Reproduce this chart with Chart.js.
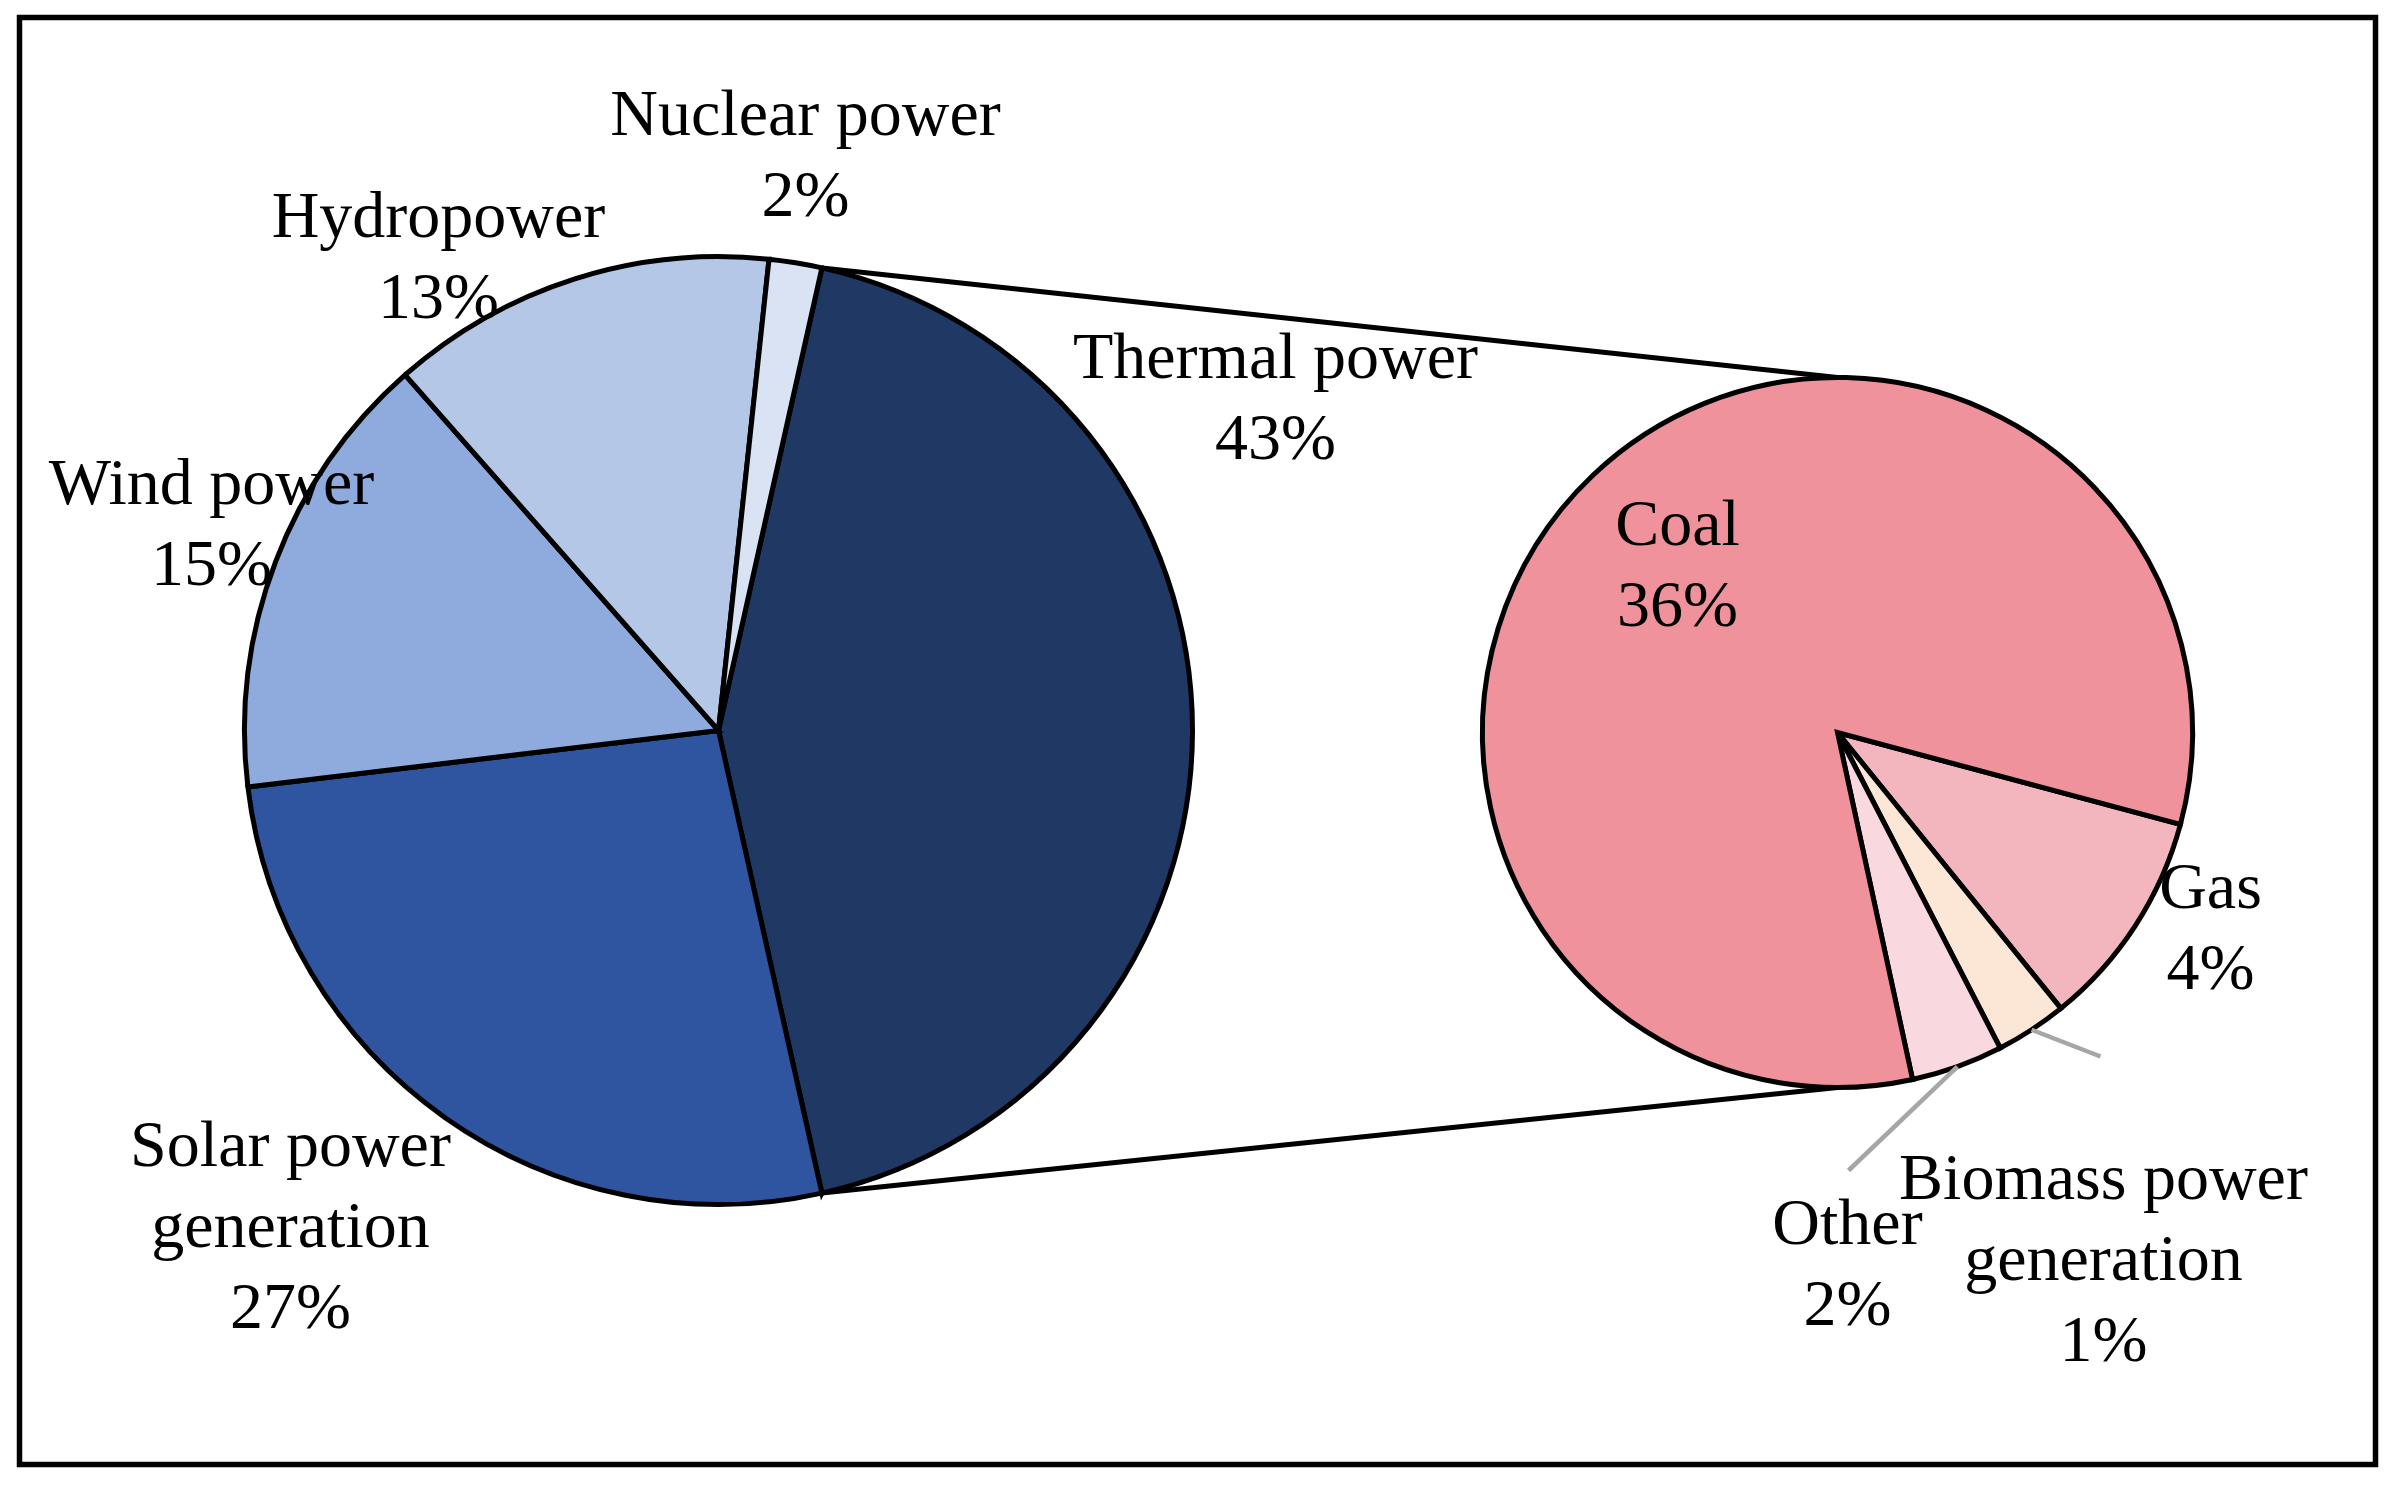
<!DOCTYPE html>
<html>
<head>
<meta charset="utf-8">
<script src="https://cdn.jsdelivr.net/npm/chart.js@4.4.1/dist/chart.umd.min.js"></script>
<style>
  html, body { margin: 0; padding: 0; background: #ffffff; }
  #wrap { position: relative; width: 2400px; height: 1487px; }
  canvas { position: absolute; left: 0; top: 0; }
</style>
</head>
<body>
<div id="wrap">
  <canvas id="mainPie" width="2400" height="1487"></canvas>
  <canvas id="subPie" width="2400" height="1487"></canvas>
</div>
<script>
// ---------- data ----------
const mainCategories = ['Thermal power', 'Solar power\ngeneration', 'Wind power', 'Hydropower', 'Nuclear power'];
const mainValues = [43.0, 26.6, 15.4, 13.2, 1.8];
const mainColors = ['#1F3864', '#2F55A0', '#8FAADC', '#B4C7E7', '#DAE3F3'];

const subCategories = ['Gas', 'Biomass power\ngeneration', 'Other', 'Coal'];
const subValues = [4.3, 1.4, 1.8, 35.5];
const subColors = ['#F4B6BE', '#FCE6D6', '#F9D8DF', '#F0929B'];

const grandTotal = mainValues.reduce((a, b) => a + b, 0);
const splitIndex = 0; // Thermal power is broken out into the secondary pie

// label placement relative to the pie centre (px) of each pie
const mainLabelOffsets = [[557, -353], [-428, 435], [-507, -227], [-280, -494], [87, -596]];
const subLabelOffsets = [[373, 175], [266, 466], [10, 511], [-160, -188]];
// leader lines (from slice rim to label anchor + offset); null = none
const subLeaderOffsets = [null, [-3, -142], [1, -73], null];

const FONT = '66px "Liberation Serif", "Times New Roman", serif';
const LINE_H = 81;
const EDGE_W = 5;

function pctText(v) { return Math.round(v / grandTotal * 100) + '%'; }

function drawLabels(chart, categories, values, offsets, leaders) {
  const ctx = chart.ctx;
  const arcs = chart.getDatasetMeta(0).data;
  const cx = arcs[0].x, cy = arcs[0].y, r = arcs[0].outerRadius;
  ctx.save();
  if (leaders) {
    ctx.strokeStyle = '#A6A6A6';
    ctx.lineWidth = 4.5;
    leaders.forEach((lo, i) => {
      if (!lo) return;
      const a = arcs[i];
      const mid = (a.startAngle + a.endAngle) / 2;
      const sx = cx + Math.cos(mid) * r, sy = cy + Math.sin(mid) * r;
      const ex = cx + offsets[i][0] + lo[0], ey = cy + offsets[i][1] + lo[1];
      ctx.beginPath(); ctx.moveTo(sx, sy); ctx.lineTo(ex, ey); ctx.stroke();
    });
  }
  ctx.font = FONT;
  ctx.fillStyle = '#000000';
  ctx.textAlign = 'center';
  ctx.textBaseline = 'alphabetic';
  categories.forEach((name, i) => {
    const lines = name.split('\n').concat([pctText(values[i])]);
    const x = cx + offsets[i][0];
    let y = cy + offsets[i][1];
    lines.forEach(t => { ctx.fillText(t, x, y); y += LINE_H; });
  });
  ctx.restore();
}

const framePlugin = {
  id: 'frame',
  beforeDraw(chart) {
    const ctx = chart.ctx;
    ctx.save();
    ctx.fillStyle = '#ffffff';
    ctx.fillRect(0, 0, chart.width, chart.height);
    ctx.strokeStyle = '#000000';
    ctx.lineWidth = 5.5;
    ctx.strokeRect(19.5, 17.5, 2356, 1447);
    ctx.restore();
  }
};

const mainLabelPlugin = {
  id: 'mainLabels',
  afterDraw(chart) { drawLabels(chart, mainCategories, mainValues, mainLabelOffsets, null); }
};

const baseOpts = {
  responsive: false,
  maintainAspectRatio: false,
  devicePixelRatio: 1,
  animation: false,
  plugins: { legend: { display: false }, tooltip: { enabled: false } }
};

const mainChart = new Chart(document.getElementById('mainPie'), {
  type: 'pie',
  data: {
    labels: mainCategories,
    datasets: [{ data: mainValues, backgroundColor: mainColors, borderColor: '#000000', borderWidth: EDGE_W, borderJoinStyle: 'miter' }]
  },
  options: Object.assign({}, baseOpts, {
    rotation: 90 - (mainValues[splitIndex] / grandTotal) * 180,
    layout: { padding: { left: 242, top: 254, right: 1205, bottom: 280 } }
  }),
  plugins: [framePlugin, mainLabelPlugin]
});

const connectorPlugin = {
  id: 'connectors',
  beforeDatasetsDraw(chart) {
    const ctx = chart.ctx;
    const src = mainChart.getDatasetMeta(0).data[splitIndex];
    const sub = chart.getDatasetMeta(0).data[0];
    const p1x = src.x + Math.cos(src.startAngle) * src.outerRadius;
    const p1y = src.y + Math.sin(src.startAngle) * src.outerRadius;
    const p2x = src.x + Math.cos(src.endAngle) * src.outerRadius;
    const p2y = src.y + Math.sin(src.endAngle) * src.outerRadius;
    ctx.save();
    ctx.strokeStyle = '#000000';
    ctx.lineWidth = EDGE_W;
    ctx.beginPath();
    ctx.moveTo(p1x, p1y); ctx.lineTo(sub.x, sub.y - sub.outerRadius);
    ctx.moveTo(p2x, p2y); ctx.lineTo(sub.x, sub.y + sub.outerRadius);
    ctx.stroke();
    ctx.restore();
  },
  afterDraw(chart) { drawLabels(chart, subCategories, subValues, subLabelOffsets, subLeaderOffsets); }
};

new Chart(document.getElementById('subPie'), {
  type: 'pie',
  data: {
    labels: subCategories,
    datasets: [{ data: subValues, backgroundColor: subColors, borderColor: '#000000', borderWidth: EDGE_W, borderJoinStyle: 'miter' }]
  },
  options: Object.assign({}, baseOpts, {
    rotation: 105,
    layout: { padding: { left: 1480, top: 375, right: 205, bottom: 397 } }
  }),
  plugins: [connectorPlugin]
});
</script>
</body>
</html>
